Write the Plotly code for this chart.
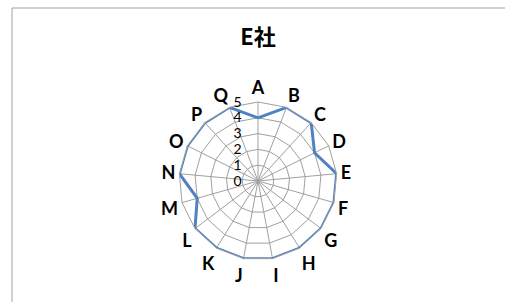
import plotly.graph_objects as go

categories = ["A", "B", "C", "D", "E", "F", "G", "H", "I", "J", "K", "L", "M", "N", "O", "P", "Q"]
values = [4, 5, 5, 4, 5, 5, 5, 5, 5, 5, 5, 5, 4, 5, 5, 5, 5]
radial_ticks = [0, 1, 2, 3, 4, 5]
title_text = "E社"

fig = go.Figure()
fig.add_trace(go.Scatterpolar(
    r=values + values[:1],
    theta=categories + categories[:1],
    mode="lines",
    line=dict(color="#5082C0", width=3),
    showlegend=False,
    hoverinfo="skip",
))

fig.update_layout(
    width=505, height=302,
    margin=dict(l=0, r=0, t=0, b=0),
    paper_bgcolor="white",
    plot_bgcolor="white",
    title=dict(text="<b>" + title_text + "</b>", x=0.511, xanchor="center", y=0.875, yanchor="middle",
               font=dict(family="Noto Sans CJK JP", size=22, color="#000000")),
    polar=dict(
        domain=dict(x=[0.3545, 0.6673], y=[0.1358, 0.6656]),
        bgcolor="white",
        gridshape="linear",
        angularaxis=dict(
            direction="clockwise", rotation=90,
            tickfont=dict(family="Lato", size=18, color="#000000", weight="bold"),
            showline=True, linecolor="#A0A0A0", linewidth=1,
            gridcolor="#A0A0A0", gridwidth=1,
            ticks="",
        ),
        radialaxis=dict(
            range=[0, 5], tickvals=radial_ticks, ticktext=[str(v) for v in radial_ticks],
            angle=90, side="counterclockwise", tickangle=90,
            showline=False, gridcolor="#A0A0A0", gridwidth=1,
            ticks="outside", ticklen=11, tickcolor="rgba(0,0,0,0)",
            tickfont=dict(family="Lato", size=14, color="#000000"),
        ),
    ),
    shapes=[dict(type="rect", xref="paper", yref="paper", x0=12/505, y0=-0.1, x1=1.1, y1=1-8/302,
                 line=dict(color="#A0A0A0", width=1), fillcolor="rgba(0,0,0,0)", layer="below")],
)

fig.write_html("out.html", config={"displayModeBar": False},
               post_script="document.body.style.margin='0px';")
